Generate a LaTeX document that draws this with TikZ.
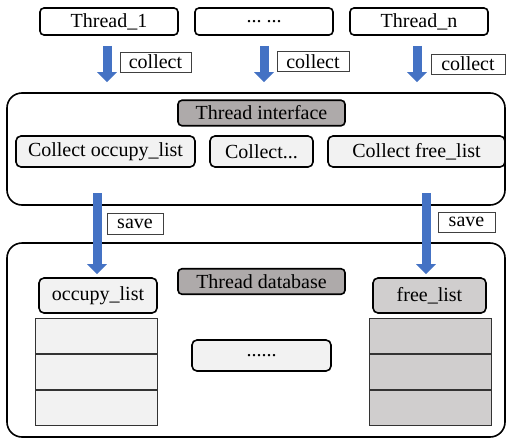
\documentclass[tikz,border=0pt]{standalone}
\usepackage{fontspec}
\setmainfont{Liberation Serif}
\usepackage{tikz}
\usetikzlibrary{arrows.meta}
\usetikzlibrary{positioning}

\definecolor{arrowBlue}{HTML}{4472C4}
\definecolor{lightFill}{HTML}{F2F2F2}
\definecolor{titleFill}{HTML}{AEAAAA}
\definecolor{listFill}{HTML}{D0CECE}

\begin{document}
\begin{tikzpicture}
      [x=0.5pt,y=-0.5pt,font=\fontsize{10}{12}\selectfont,
       every node/.style={inner sep=0pt},
       threadBox/.style={rectangle,rounded corners=2pt,draw=black,line width=0.8pt,minimum width=69pt,minimum height=13.5pt},
       tagBox/.style={rectangle,draw=black!75,line width=0.5pt,minimum height=10pt},
       panelBox/.style={rectangle,rounded corners=7.5pt,draw=black,line width=0.8pt,minimum width=249pt},
       titleBox/.style={rectangle,rounded corners=2pt,draw=black,line width=0.8pt,fill=titleFill,minimum width=83.5pt,minimum height=12.75pt},
       itemBox/.style={rectangle,rounded corners=2.5pt,draw=black,line width=0.8pt,fill=lightFill,minimum height=15.5pt},
       cellBox/.style={rectangle,draw=black!80,line width=0.5pt,minimum width=61pt,minimum height=17.5pt},
       blueArrow/.style={draw=arrowBlue,line width=4.5pt,-{Triangle[width=9.5pt,length=5pt]}}]
      \useasboundingbox (0,0) rectangle (507,439);

      % threads on top
      \node[threadBox] (thread1) at (109,21.5) {Thread\_1};
      \node[threadBox] (threadDots) at (264,21.5) {...\ ...};
      \node[threadBox] (threadN) at (419,21.5) {Thread\_n};

      % interface panel
      \node[panelBox,minimum height=56pt] (iface) at (256,149) {};
      \node[titleBox] (ifaceTitle) at (261.5,113) {Thread interface};
      \node[itemBox,minimum width=89.5pt] (collectOcc) at (105.5,151.5) {Collect occupy\_list};
      \node[itemBox,minimum width=51.5pt] (collectMore) at (261.5,151.5) {Collect...};
      \node[itemBox,minimum width=88.5pt] (collectFree) at (416.5,151.5) {Collect free\_list};

      % database panel
      \node[panelBox,minimum height=97pt] (db) at (256,340) {};
      \node[titleBox] (dbTitle) at (261.5,281.5) {Thread database};
      \node[itemBox,minimum width=59pt,minimum height=17.5pt] (occList) at (98,295.5) {occupy\_list};
      \node[itemBox,fill=listFill,minimum width=56.5pt,minimum height=17.5pt] (freeList) at (429.5,295.5) {free\_list};
      \node[itemBox,minimum width=69.5pt] (moreList) at (261.5,355.5) {\raisebox{-0.3ex}{......}};

      % list slots
      \node[cellBox,fill=lightFill] (occCell1) at (96,335.5) {};
      \node[cellBox,fill=lightFill] (occCell2) [below=0pt of occCell1] {};
      \node[cellBox,fill=lightFill] (occCell3) [below=0pt of occCell2] {};
      \node[cellBox,fill=listFill] (freeCell1) at (430,335.5) {};
      \node[cellBox,fill=listFill] (freeCell2) [below=0pt of freeCell1] {};
      \node[cellBox,fill=listFill] (freeCell3) [below=0pt of freeCell2] {};

      % collect arrows
      \draw[blueArrow,shorten <=5pt,shorten >=5pt] ([xshift=-1pt]thread1.south) -- ([xshift=-1pt]thread1.south |- iface.north);
      \draw[blueArrow,shorten <=5pt,shorten >=5pt] (threadDots.south) -- (threadDots.south |- iface.north);
      \draw[blueArrow,shorten <=5pt,shorten >=5pt] ([xshift=-1pt]threadN.south) -- ([xshift=-1pt]threadN.south |- iface.north);
      \node[tagBox,minimum width=35.5pt] (collectTag1) at (155.5,62) {collect};
      \node[tagBox,minimum width=36pt] (collectTag2) at (313,61.5) {collect};
      \node[tagBox,minimum width=37pt] (collectTag3) at (468,64) {collect};

      % save arrows
      \coordinate (saveOcc) at (97,193);
      \coordinate (saveFree) at (426,193);
      \draw[blueArrow,shorten >=1.5pt] (saveOcc) -- (saveOcc |- occList.north);
      \draw[blueArrow,shorten >=1.5pt] (saveFree) -- (saveFree |- freeList.north);
      \node[tagBox,minimum width=28pt,minimum height=10.5pt] (saveTag1) at (135,223.5) {save};
      \node[tagBox,minimum width=28.5pt] (saveTag2) at (466.5,222) {save};
    \end{tikzpicture}
\end{document}
